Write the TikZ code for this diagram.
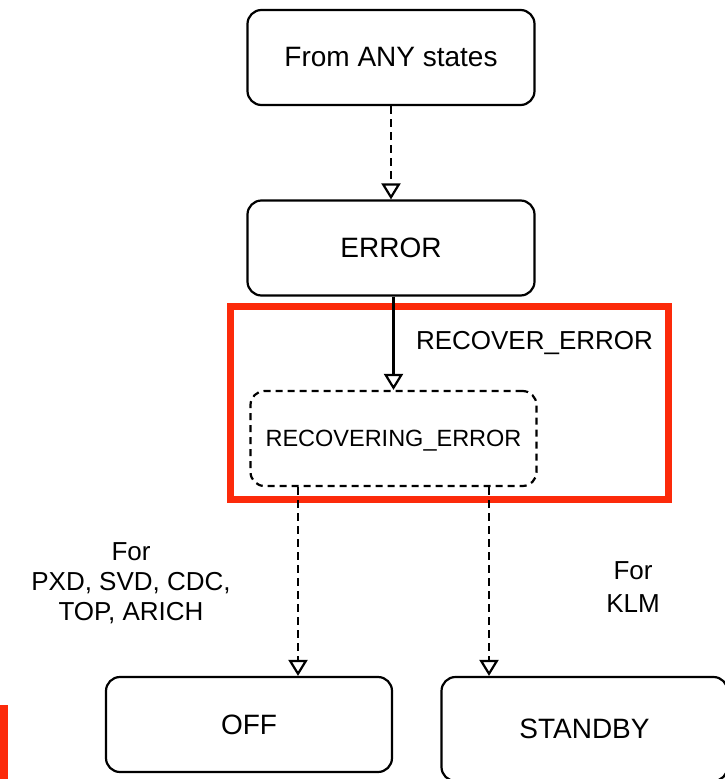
\documentclass[tikz,border=0pt]{standalone}
\usepackage{fontspec}
\setmainfont{Liberation Sans}
\usetikzlibrary{arrows.meta}
\definecolor{frame}{RGB}{252,42,10}
\tikzset{
  state/.style={draw=black, line width=2.2pt, rounded corners=14pt, minimum width=287pt, minimum height=95pt, inner sep=0pt, font=\fontsize{28}{32}\selectfont},
  dstate/.style={state, dash pattern=on 7pt off 5pt, font=\fontsize{23.5}{28}\selectfont},
  tip/.style={-{Triangle[open, width=19pt, length=16pt]}},
  solidarr/.style={tip, line width=2.2pt},
  dasharr/.style={tip, line width=2.2pt, dash pattern=on 8pt off 5pt},
  lbl/.style={align=center, inner sep=0pt, font=\fontsize{26}{30}\selectfont},
}
\begin{document}
\begin{tikzpicture}[x=1pt, y=-1pt]
\useasboundingbox (0,0) rectangle (725,779);
\node[state] (any) at (391,57.5) {From ANY states};
\node[state] (error) at (391,248) {ERROR};
\node[dstate, minimum width=286pt, text depth=-8pt] (rec) at (393.5,438.5) {RECOVERING\_ERROR};
\node[state, minimum width=286pt] (off) at (249,724.5) {OFF};
\node[state, minimum width=286pt, minimum height=104pt] (standby) at (584.5,729) {STANDBY};
\draw[frame, line width=7pt] (230,306) rectangle (668,499);
\fill[frame] (0,705) rectangle (8,779);
\draw[dasharr] (any.south) -- (error.north);
\draw[solidarr] (error.south -| rec.north) -- (rec.north);
\draw[dasharr] ([xshift=-95.5pt]rec.south) -- ([xshift=49pt]off.north);
\draw[dasharr] ([xshift=95.5pt]rec.south) -- ([xshift=-95.5pt]standby.north);
\node[lbl] (lrec) at (534.5,343) {RECOVER\_ERROR};
\node[lbl] (lpxd) at (131,583) {For\\PXD, SVD, CDC,\\TOP, ARICH};
\node[lbl, font=\fontsize{26}{33}\selectfont] (lklm) at (633,587) {For\\KLM};
\end{tikzpicture}
\end{document}
